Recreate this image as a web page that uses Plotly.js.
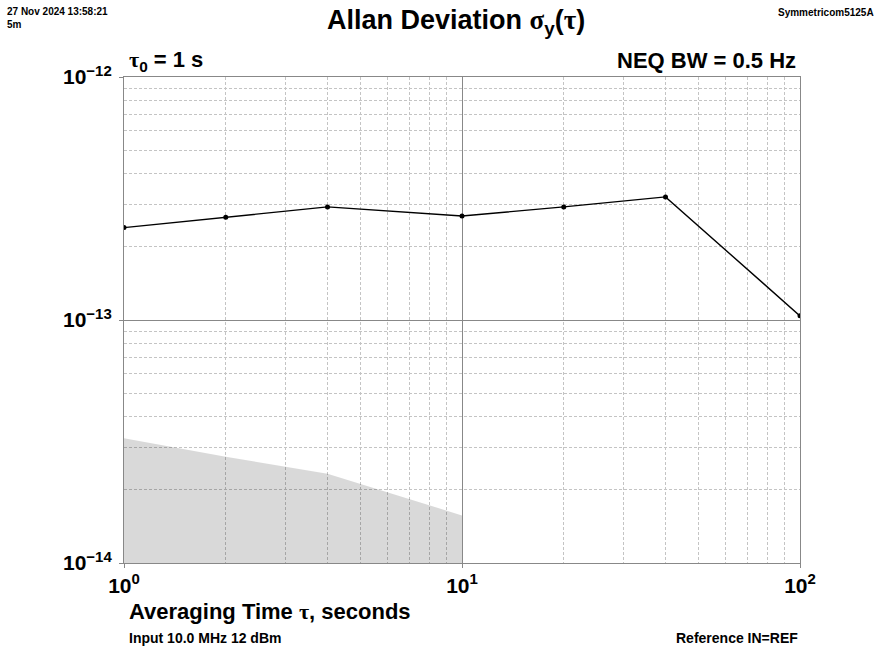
<!DOCTYPE html>
<html>
<head>
<meta charset="utf-8">
<script src="https://cdn.plot.ly/plotly-3.0.1.min.js"></script>
<style>html,body{margin:0;padding:0;background:#fff;}</style>
</head>
<body>
<div id="chart" style="width:881px;height:653px;"></div>
<script>
// Averaging times (s)
const tau = [1, 2, 4, 10, 20, 40, 100];
// Allan deviation values
const adev = [2.40e-13, 2.65e-13, 2.92e-13, 2.68e-13, 2.92e-13, 3.21e-13, 1.04e-13];
// Noise floor (shaded)
const noiseTau = [1, 2, 4, 10];
const noiseAdev = [3.26e-14, 2.74e-14, 2.33e-14, 1.57e-14];
// Tick labels
const xTickVals = [1, 10, 100];
const xExp = ['0', '1', '2'];
const yTickVals = [1e-14, 1e-13, 1e-12];
const yExp = ['\u221214', '\u221213', '\u221212'];
const sup = e => '10<sup><span style="font-size:15px">' + e + '</span></sup>';
const xTickText = xExp.map(sup);
const yTickText = yExp.map(sup);

const xMinor = [], yMinor = [];
[0, 1].forEach(d => { for (let m = 2; m <= 9; m++) xMinor.push(m * Math.pow(10, d)); });
[-14, -13].forEach(d => { for (let m = 2; m <= 9; m++) yMinor.push(m * Math.pow(10, d)); });

const FONT = 'Liberation Sans, Arial, Helvetica, sans-serif';
const SERIF = 'Liberation Serif, Times New Roman, serif';

const traces = [
  {
    x: noiseTau, y: noiseAdev, type: 'scatter', mode: 'lines',
    fill: 'tozeroy', fillcolor: 'rgba(0,0,0,0.15)',
    line: {width: 0, color: 'rgba(0,0,0,0)'}, hoverinfo: 'skip', showlegend: false
  },
  {
    x: tau, y: adev, type: 'scatter', mode: 'lines+markers',
    line: {color: '#000', width: 1.4},
    marker: {color: '#000', size: 5}, showlegend: false
  }
];

const axisCommon = {
  type: 'log', showline: true, mirror: true, linecolor: '#888', linewidth: 1,
  showgrid: true, gridcolor: '#888', gridwidth: 1, zeroline: false,
  ticks: 'outside', ticklen: 4, tickcolor: '#888', tickwidth: 1,
  tickmode: 'array', tickfont: {family: FONT, size: 21, color: '#000', weight: 'bold'}
};

const layout = {
  width: 881, height: 653,
  margin: {l: 124, r: 81, t: 77, b: 90},
  paper_bgcolor: '#fff', plot_bgcolor: '#fff',
  xaxis: Object.assign({}, axisCommon, {
    range: [0, 2], tickvals: xTickVals, ticktext: xTickText,
    minor: {tickvals: xMinor, showgrid: true, gridcolor: '#c4c4c4', griddash: '3px,2px', gridwidth: 1, ticks: ''}
  }),
  yaxis: Object.assign({}, axisCommon, {
    range: [-14, -12], tickvals: yTickVals, ticktext: yTickText, ticklabelstandoff: 3,
    minor: {tickvals: yMinor, showgrid: true, gridcolor: '#c4c4c4', griddash: '3px,2px', gridwidth: 1, ticks: ''}
  }),
  annotations: [
    {xref: 'paper', yref: 'paper', x: 0.491, y: 1.113, xanchor: 'center', yanchor: 'middle', showarrow: false,
     text: '<b>Allan Deviation <span style="font-family:' + SERIF + '">\u03c3</span><sub>y</sub>(<span style="font-family:' + SERIF + '">\u03c4</span>)</b>',
     font: {family: FONT, size: 27, color: '#000'}},
    {xref: 'paper', yref: 'paper', x: -0.176, y: 1.150, xanchor: 'left', yanchor: 'top', align: 'left', showarrow: false,
     text: '<b>27 Nov 2024 13:58:21<br>5m</b>', font: {family: FONT, size: 10, color: '#000'}},
    {xref: 'paper', yref: 'paper', x: 1.1124, y: 1.1317, xanchor: 'right', yanchor: 'middle', showarrow: false,
     text: '<b>Symmetricom5125A</b>', font: {family: FONT, size: 10, color: '#000'}},
    {xref: 'paper', yref: 'paper', x: 0.0044, y: 1.033, xanchor: 'left', yanchor: 'middle', showarrow: false,
     text: '<b><span style="font-family:' + SERIF + '">\u03c4</span><sub>0</sub> = 1 s</b>', font: {family: FONT, size: 22, color: '#000'}},
    {xref: 'paper', yref: 'paper', x: 0.997, y: 1.033, xanchor: 'right', yanchor: 'middle', showarrow: false,
     text: '<b>NEQ BW = 0.5 Hz</b>', font: {family: FONT, size: 22, color: '#000'}},
    {xref: 'paper', yref: 'paper', x: 0.0044, y: -0.099, xanchor: 'left', yanchor: 'middle', showarrow: false,
     text: '<b>Averaging Time <span style="font-family:' + SERIF + '">\u03c4</span>, seconds</b>', font: {family: FONT, size: 22, color: '#000'}},
    {xref: 'paper', yref: 'paper', x: 0.0044, y: -0.154, xanchor: 'left', yanchor: 'middle', showarrow: false,
     text: '<b>Input 10.0 MHz 12 dBm</b>', font: {family: FONT, size: 14, color: '#000'}},
    {xref: 'paper', yref: 'paper', x: 1.0, y: -0.154, xanchor: 'right', yanchor: 'middle', showarrow: false,
     text: '<b>Reference IN=REF</b>', font: {family: FONT, size: 14, color: '#000'}}
  ]
};

Plotly.newPlot('chart', traces, layout, {displayModeBar: false, staticPlot: true});
</script>
</body>
</html>
